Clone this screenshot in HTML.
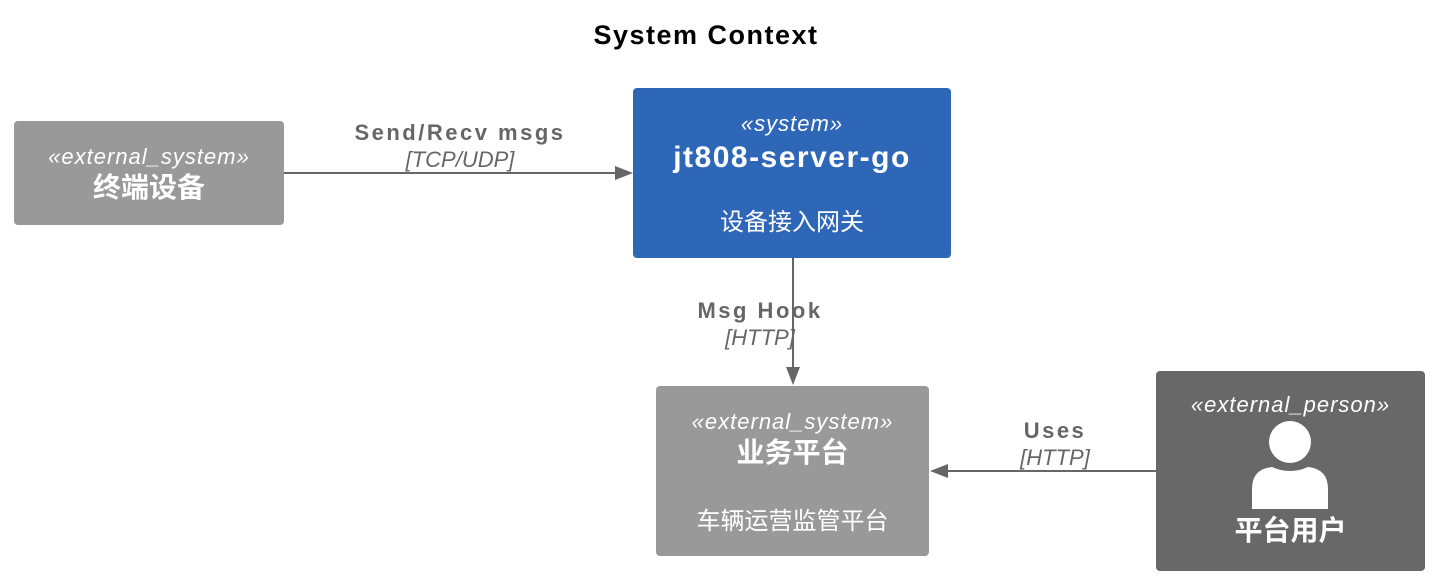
<!DOCTYPE html>
<html><head><meta charset="utf-8"><style>
body{margin:0;width:1438px;height:582px;background:#fff;position:relative;overflow:hidden;font-family:"Liberation Sans","Noto Sans CJK SC",sans-serif}
.b{position:absolute;border-radius:4px;color:#fff;text-align:center;box-sizing:border-box}
.st{font-style:italic;font-size:22px;letter-spacing:1px;line-height:26px}
.nm{font-weight:bold;font-size:28px;line-height:34px}
.d{font-size:24px;line-height:30px}
.t{position:absolute;text-align:center;color:#666;font-size:22px;line-height:27px}
.lb{font-weight:bold;letter-spacing:2.5px}
.it{font-style:italic}
</style></head><body>
<div class="t" style="left:0;width:1412px;top:22px;color:#000;font-weight:bold;font-size:27px;letter-spacing:1.5px">System Context</div>
<svg width="1438" height="582" style="position:absolute;left:0;top:0">
<g stroke="#666" stroke-width="2" fill="#666">
<line x1="284" y1="173" x2="620" y2="173"/><polygon points="633,173 615,166 615,180" stroke="none"/>
<line x1="793" y1="258" x2="793" y2="372"/><polygon points="793,385 786,367 800,367" stroke="none"/>
<line x1="1156" y1="471" x2="944" y2="471"/><polygon points="930,471 948,464 948,478" stroke="none"/>
</g></svg>
<div class="b" style="left:14px;top:121px;width:270px;height:104px;background:#999;padding-top:23px"><div class="st">«external_system»</div><div class="nm" style="margin-top:1px">终端设备</div></div>
<div class="b" style="left:633px;top:88px;width:318px;height:170px;background:#2f67b8;padding-top:23px"><div class="st">«system»</div><div class="nm" style="font-size:30px;letter-spacing:1.5px;margin-top:4px">jt808-server-go</div><div class="d" style="margin-top:33px">设备接入网关</div></div>
<div class="b" style="left:656px;top:386px;width:273px;height:170px;background:#999;padding-top:23px"><div class="st">«external_system»</div><div class="nm" style="margin-top:1px">业务平台</div><div class="d" style="margin-top:37px">车辆运营监管平台</div></div>
<div class="b" style="left:1156px;top:371px;width:269px;height:200px;background:#686868;padding-top:21px"><div class="st">«external_person»</div>
<svg width="80" height="90" style="position:absolute;left:94px;top:50px"><circle cx="40" cy="21" r="21" fill="#fff"/><path d="M2 88 L2 68 Q2 48 22 46 Q40 54 58 46 Q78 48 78 68 L78 88 Z" fill="#fff"/></svg>
<div class="nm" style="position:absolute;left:0;right:0;top:143px">平台用户</div></div>
<div class="t" style="left:320px;width:280px;top:119px"><div class="lb">Send/Recv msgs</div><div class="it">[TCP/UDP]</div></div>
<div class="t" style="left:660px;width:200px;top:297px"><div class="lb">Msg Hook</div><div class="it">[HTTP]</div></div>
<div class="t" style="left:975px;width:160px;top:417px"><div class="lb">Uses</div><div class="it">[HTTP]</div></div>
</body></html>
